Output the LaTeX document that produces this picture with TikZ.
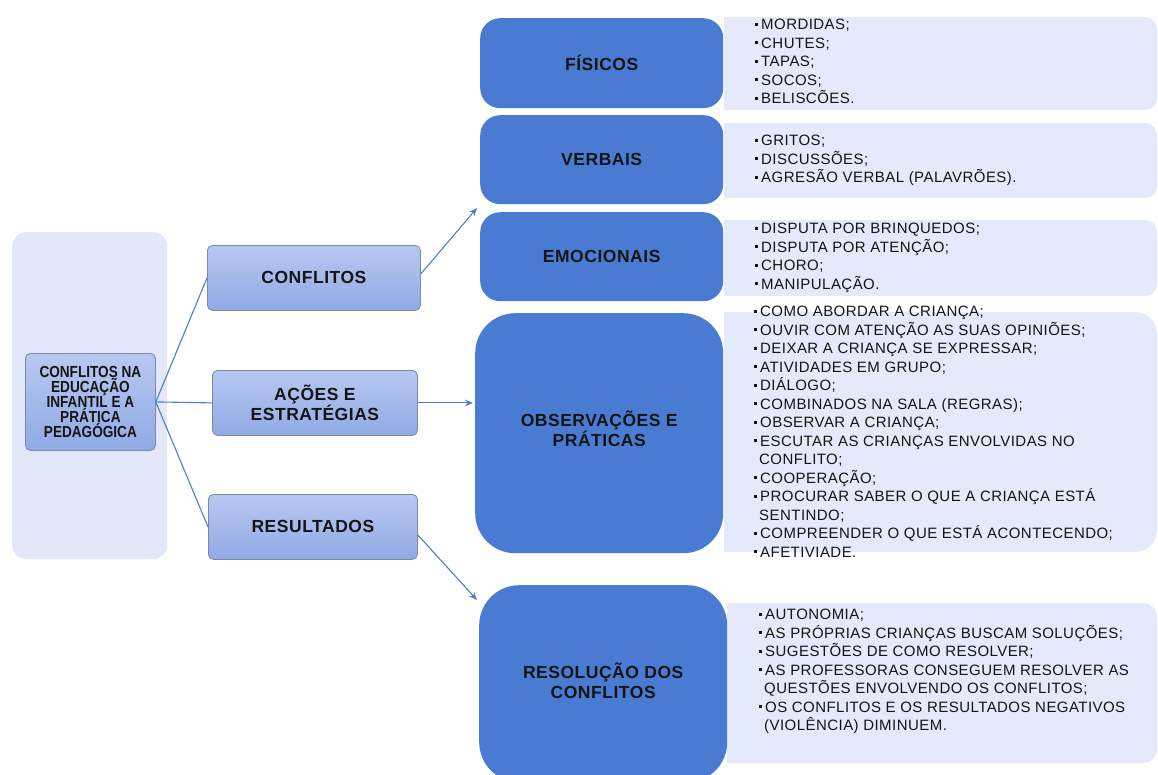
\documentclass[tikz,border=0pt]{standalone}
\usepackage{fontspec}
\setmainfont{Liberation Sans}
\newfontfamily\titlefont{Liberation Sans}[LetterSpace=3]
\newfontfamily\listfont{Liberation Sans}[LetterSpace=3]
\newfontfamily\rootfont{Liberation Sans}[FakeStretch=0.85]
\usetikzlibrary{arrows.meta}
\definecolor{bgpanel}{HTML}{E2E7FA}
\definecolor{listbg}{HTML}{E4E9FB}
\definecolor{darkblue}{HTML}{4A7BD3}
\definecolor{midtop}{HTML}{B8C8F1}
\definecolor{midbot}{HTML}{90AAE5}
\definecolor{midborder}{HTML}{7C88A8}
\definecolor{connblue}{HTML}{4C7ECF}
\definecolor{ink}{HTML}{151515}
\newcommand{\lbul}{\rule[3.6pt]{3pt}{3pt}\hspace{3pt}}
\tikzset{
  midbox/.style={draw=midborder, line width=0.8pt, rounded corners=5pt,
    top color=midtop, bottom color=midbot, inner sep=0pt, anchor=north west,
    align=center, text=ink,
    font={\titlefont\bfseries\fontsize{17.5}{20}\selectfont\lineskiplimit=-30pt}},
  darkbox/.style={fill=darkblue, inner sep=0pt, anchor=north west, align=center,
    text=ink, font={\titlefont\bfseries\fontsize{17.5}{20}\selectfont\lineskiplimit=-30pt}},
  listtext/.style={anchor=north west, inner sep=0pt, align=left, text=ink,
    font={\listfont\fontsize{15}{18.5}\selectfont\lineskiplimit=-30pt}},
  conn/.style={draw=connblue, line width=1.1pt},
  arr/.style={conn, -{Stealth[length=8pt,width=6.5pt]}}
}
\begin{document}
\begin{tikzpicture}[x=1pt,y=-1pt]
\useasboundingbox (0,0) rectangle (1158,774);
\clip (0,0) rectangle (1158,774);
% left panel
\node[fill=bgpanel, rounded corners=14pt, minimum width=155pt, minimum height=327pt,
  anchor=north west, inner sep=0pt] (panel) at (12,232) {};
% list backgrounds
\begin{scope}
\clip (724,0) rectangle (1158,774);
\fill[listbg, rounded corners=12pt] (700,17) rectangle (1157,110);
\fill[listbg, rounded corners=12pt] (700,123) rectangle (1157,198);
\fill[listbg, rounded corners=12pt] (700,220) rectangle (1157,296);
\fill[listbg, rounded corners=22pt] (700,312) rectangle (1157,552);
\end{scope}
\begin{scope}
\clip (727,0) rectangle (1158,774);
\fill[listbg, rounded corners=14pt] (700,603) rectangle (1157,763);
\end{scope}
% root and middle nodes
\node[midbox, minimum width=130pt, minimum height=97pt,
  font={\rootfont\bfseries\fontsize{16}{15.2}\selectfont\lineskiplimit=-30pt}]
  (root) at (25,353) {CONFLITOS NA\\EDUCAÇÃO\\INFANTIL E A\\PRÁTICA\\PEDAGÓGICA};
\node[midbox, minimum width=213pt, minimum height=65pt] (conf) at (207,245) {CONFLITOS};
\node[midbox, minimum width=205pt, minimum height=65pt] (acoes) at (212,370) {AÇÕES E\\ESTRATÉGIAS};
\node[midbox, minimum width=209pt, minimum height=65pt] (res) at (208,494) {RESULTADOS};
% dark boxes
\node[darkbox, rounded corners=20pt, minimum width=243pt, minimum height=90pt] (fis) at (480,18) {FÍSICOS};
\node[darkbox, rounded corners=20pt, minimum width=243pt, minimum height=89pt] (verb) at (480,115) {VERBAIS};
\node[darkbox, rounded corners=20pt, minimum width=243pt, minimum height=89pt] (emo) at (480,212) {EMOCIONAIS};
\node[darkbox, rounded corners=40pt, minimum width=248pt, minimum height=240pt] (obs) at (475,313) {OBSERVAÇÕES E\\PRÁTICAS\\[-12pt]};
\node[darkbox, rounded corners=40pt, minimum width=248pt, minimum height=197pt] (resol) at (479,585) {RESOLUÇÃO DOS\\CONFLITOS\\[-14pt]};
% lists
\node[listtext] (lfis) at (755,16.4) {\strut\lbul MORDIDAS;\\\lbul CHUTES;\\\lbul TAPAS;\\\lbul SOCOS;\\\lbul BELISCÕES.};
\node[listtext] (lverb) at (755,132.4) {\strut\lbul GRITOS;\\\lbul DISCUSSÕES;\\\lbul AGRESÃO VERBAL (PALAVRÕES).};
\node[listtext] (lemo) at (755,220.4) {\strut\lbul DISPUTA POR BRINQUEDOS;\\\lbul DISPUTA POR ATENÇÃO;\\\lbul CHORO;\\\lbul MANIPULAÇÃO.};
\node[listtext] (lobs) at (754,303.4) {\strut\lbul COMO ABORDAR A CRIANÇA;\\\lbul OUVIR COM ATENÇÃO AS SUAS OPINIÕES;\\\lbul DEIXAR A CRIANÇA SE EXPRESSAR;\\\lbul ATIVIDADES EM GRUPO;\\\lbul DIÁLOGO;\\\lbul COMBINADOS NA SALA (REGRAS);\\\lbul OBSERVAR A CRIANÇA;\\\lbul ESCUTAR AS CRIANÇAS ENVOLVIDAS NO\\\hspace*{5pt}CONFLITO;\\\lbul COOPERAÇÃO;\\\lbul PROCURAR SABER O QUE A CRIANÇA ESTÁ\\\hspace*{5pt}SENTINDO;\\\lbul COMPREENDER O QUE ESTÁ ACONTECENDO;\\\lbul AFETIVIADE.};
\node[listtext] (lres) at (759,606.4) {\strut\lbul AUTONOMIA;\\\lbul AS PRÓPRIAS CRIANÇAS BUSCAM SOLUÇÕES;\\\lbul SUGESTÕES DE COMO RESOLVER;\\\lbul AS PROFESSORAS CONSEGUEM RESOLVER AS\\\hspace*{5pt}QUESTÕES ENVOLVENDO OS CONFLITOS;\\\lbul OS CONFLITOS E OS RESULTADOS NEGATIVOS\\\hspace*{5pt}(VIOLÊNCIA) DIMINUEM.};
% connectors
\coordinate (tipv) at (477,208);
\coordinate (tipr) at (477,600);
\draw[conn] (root.east) -- (conf.west);
\draw[conn] (root.east) -- (acoes.west);
\draw[conn] (root.east) -- (res.west);
\draw[arr] ([yshift=4pt]conf.east) -- (tipv);
\draw[arr, shorten >=2pt] (acoes.east) -- (acoes.east -| obs.west);
\draw[arr] ([yshift=-8pt]res.east) -- (tipr);
\end{tikzpicture}
\end{document}
